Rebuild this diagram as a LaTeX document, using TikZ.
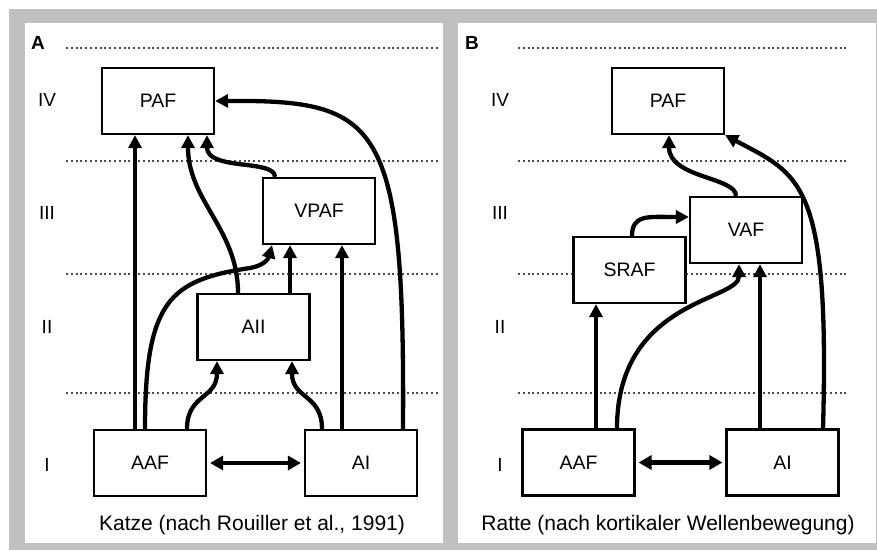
\documentclass[tikz,border=0pt]{standalone}
\usepackage{fontspec}
\setmainfont{Liberation Sans}
\usetikzlibrary{arrows.meta}

\definecolor{framegray}{RGB}{192,192,192}

\begin{document}
\begin{tikzpicture}
		[x=1pt,y=-1pt,
		%Styles
		area box/.style={draw,fill=white,line width=2.2pt,minimum width=112pt,minimum height=66pt,inner sep=0pt,font=\fontsize{19.5}{22}\selectfont},
		level text/.style={font=\fontsize{19}{22}\selectfont},
		panel letter/.style={font=\fontsize{19}{22}\selectfont\bfseries},
		caption text/.style={font=\fontsize{21}{25}\selectfont},
		level line/.style={black!70,line width=1.1pt,dash pattern=on 2pt off 2.8pt},
		conn/.style={line width=4.3pt,-{Triangle[length=13pt,width=13pt]}},
		both conn/.style={line width=4.3pt,{Triangle[length=13pt,width=14pt]}-{Triangle[length=13pt,width=14pt]},shorten <=3pt,shorten >=3pt}
		]
		
		%Frame and panels
		\useasboundingbox (0,0) rectangle (877,550);
		\fill[white] (0,0) rectangle (877,550);
		\fill[framegray] (9,9) rectangle (877,550);
		\fill[white] (25,23) rectangle (443,543);
		\fill[white] (458,23) rectangle (875.5,543);
		
		%Levels
		\foreach \y in {48,161,274,393} {
			\draw[level line] (66,\y) -- (440,\y);
			\draw[level line] (518,\y) -- (846,\y);
		}
		\foreach \lvl/\y in {IV/100,III/213,II/327,I/465} {
			\node[level text] (lvlA\lvl) at (47,\y) {\lvl};
			\node[level text] (lvlB\lvl) at (500,\y) {\lvl};
		}
		\node[panel letter] (letterA) at (38,43) {A};
		\node[panel letter] (letterB) at (472,43) {B};
		
		%Panel A: Katze
		\node[area box] (pafA) at (158,101) {PAF};
		\node[area box] (vpafA) at (319,211) {VPAF};
		\node[area box] (aiiA) at (253.5,327) {AII};
		\node[area box] (aafA) at (150,463) {AAF};
		\node[area box] (aiA) at (361,463) {AI};
		\node[caption text] (capA) at (252,525) {Katze (nach Rouiller et al., 1991)};
		
		\draw[conn] ([xshift=-15pt]aafA.north) -- ([xshift=-23pt]pafA.south);
		\draw[conn] ([xshift=-5pt]aafA.north) .. controls (145,300) and (170,280) .. (250,268)
			.. controls (262,266) and (268,260) .. ([xshift=-47pt]vpafA.south);
		\draw[conn] ([xshift=37pt]aafA.north) .. controls +(0,-35) and +(0,38) .. ([xshift=-36.5pt]aiiA.south);
		\draw[conn] ([xshift=-39pt]aiA.north) .. controls +(0,-35) and +(0,38) .. ([xshift=38.5pt]aiiA.south);
		\draw[conn] ([xshift=-19pt]aiA.north) -- ([xshift=23pt]vpafA.south);
		\draw[conn] ([xshift=42pt]aiA.north) .. controls (405,120) and (380,100) .. (pafA.east);
		\draw[conn] ([xshift=-15.5pt]aiiA.north) .. controls +(0,-64) and +(0,66) .. ([xshift=30pt]pafA.south);
		\draw[conn] ([xshift=36.5pt]aiiA.north) -- ([xshift=-29pt]vpafA.south);
		\draw[conn] ([xshift=-44pt]vpafA.north) .. controls +(0,-18) and +(0,36) .. ([xshift=49pt]pafA.south);
		\draw[both conn] (aafA) -- (aiA);
		
		%Panel B: Ratte
		\node[area box] (pafB) at (668,101) {PAF};
		\node[area box] (vafB) at (746,230) {VAF};
		\node[area box] (srafB) at (629.5,270) {SRAF};
		\node[area box] (aafB) at (578.5,462.5) {AAF};
		\node[area box] (aiB) at (782.5,462.5) {AI};
		\node[caption text] (capB) at (668,525) {Ratte (nach kortikaler Wellenbewegung)};
		
		\draw[conn] ([xshift=17.5pt]aafB.north) -- ([xshift=-33.5pt]srafB.south);
		\draw[conn] ([xshift=38.5pt]aafB.north) .. controls +(0,-129) and +(0,37) .. ([xshift=-7pt]vafB.south);
		\draw[conn] ([xshift=-22.5pt]aiB.north) -- ([xshift=14pt]vafB.south);
		\draw[conn] ([xshift=40.5pt]aiB.north) .. controls (830,180) and (800,175) .. (pafB.south east);
		\draw[conn] ([xshift=-10pt]vafB.north) .. controls +(0,-19) and +(0,43) .. ([xshift=1pt]pafB.south);
		\draw[conn] ([xshift=2.5pt]srafB.north) .. controls +(0,-22) and +(-40,0) .. ([yshift=13pt]vafB.west);
		\draw[both conn] (aafB) -- (aiB);
	\end{tikzpicture}
\end{document}
